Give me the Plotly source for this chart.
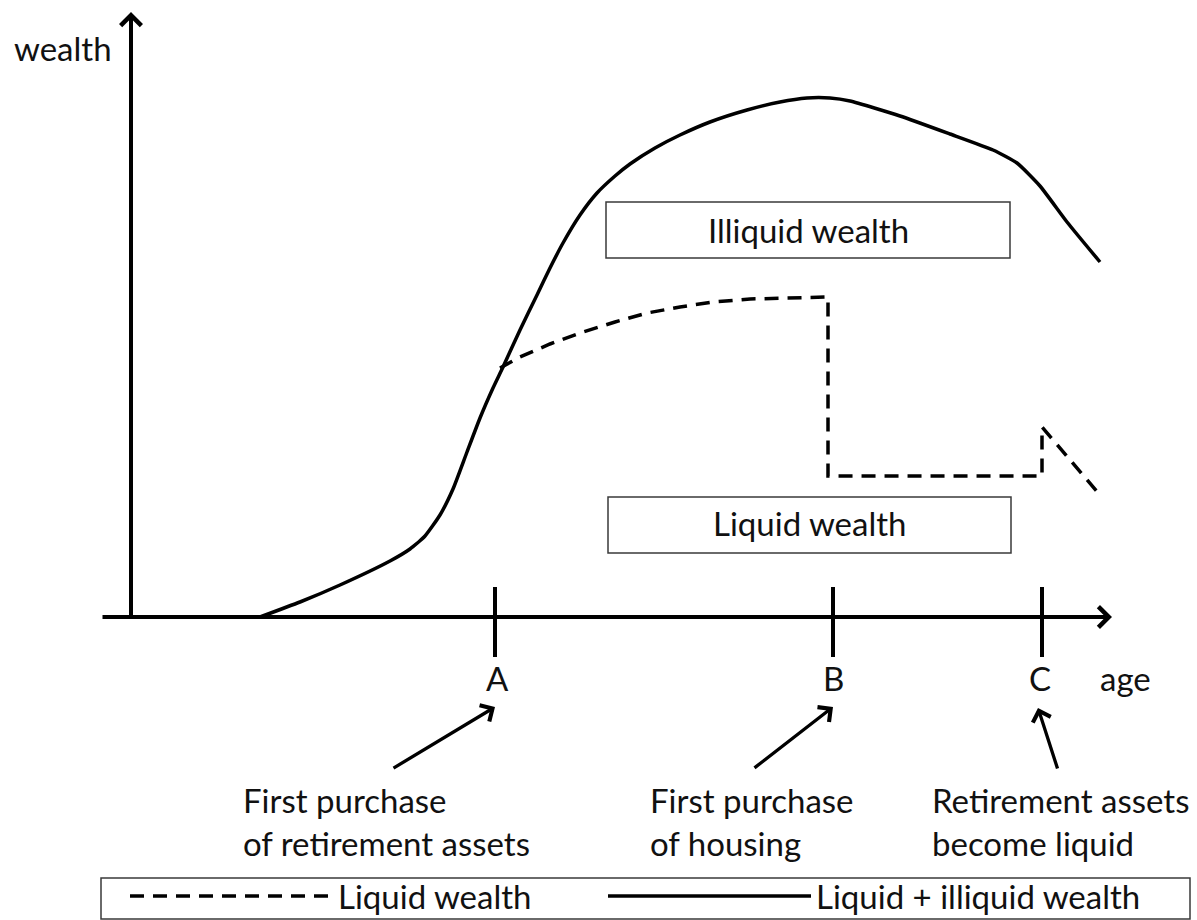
import plotly.graph_objects as go

# ---- data (age units on the horizontal axis, wealth units on the vertical axis) ----
total_age = [260, 300, 340, 390, 410, 425, 440, 453, 467, 480, 493, 503, 520, 537, 550,
             563, 580, 597, 615, 630, 655, 680, 710, 747, 780, 807, 830, 850, 900, 950,
             993, 1017, 1040, 1067, 1100]
total_wealth = [0, 15, 32, 56, 68, 81, 102, 128, 165, 199, 229, 250, 287, 322, 349,
                374, 402, 424, 441, 453, 469, 482, 495, 507, 515, 519, 519, 516, 501, 483,
                467, 454, 431, 395, 355]

liquid_age = [500, 520, 550, 580, 615, 647, 680, 713, 750, 780, 828, 828, 1042, 1042, 1100]
liquid_wealth = [249, 260, 273, 284, 295, 304, 310, 315, 318, 319, 320, 141, 141, 190, 122]

milestone_labels = ["A", "B", "C"]
milestone_age = [495, 833, 1042]
milestone_notes = [["First purchase", "of retirement assets"],
                   ["First purchase", "of housing"],
                   ["Retirement assets", "become liquid"]]

FONT = "Lato, 'Open Sans', sans-serif"
FS = 33
TXT = "#111111"

fig = go.Figure()

fig.add_trace(go.Scatter(
    x=liquid_age, y=liquid_wealth, mode="lines", name="Liquid wealth", legend="legend",
    line=dict(color="black", width=3.5, dash="14px,9px"),
))
fig.add_trace(go.Scatter(
    x=total_age, y=total_wealth, mode="lines", name="Liquid + illiquid wealth", legend="legend2",
    line=dict(color="black", width=3.5, shape="spline", smoothing=0.5),
))
# tick marks on the age axis
fig.add_trace(go.Scatter(
    x=milestone_age, y=[-5] * len(milestone_age), mode="markers", showlegend=False,
    marker=dict(symbol="line-ns-open", size=50, color="black", line=dict(color="black", width=4)),
    hoverinfo="skip",
))

ann = []
# axes as arrows
ann.append(dict(x=131, y=605, ax=131, ay=0, xref="x", yref="y", axref="x", ayref="y",
                text="", showarrow=True, arrowhead=4, arrowsize=1, arrowwidth=4,
                arrowcolor="black", standoff=0))
ann.append(dict(x=1112, y=0, ax=101, ay=0, xref="x", yref="y", axref="x", ayref="y",
                text="", showarrow=True, arrowhead=4, arrowsize=1, arrowwidth=4,
                arrowcolor="black", standoff=0))

ann.append(dict(x=12, y=569, xref="x", yref="y", text="wealth", showarrow=False,
                xanchor="left", yanchor="middle", font=dict(size=FS, family=FONT, color=TXT)))
ann.append(dict(x=1125, y=-61, xref="x", yref="y", text="age", showarrow=False,
                xanchor="center", yanchor="middle", font=dict(size=FS, family=FONT, color=TXT)))

label_x = [497, 833, 1040]
for lx, lab in zip(label_x, milestone_labels):
    ann.append(dict(x=lx, y=-61, xref="x", yref="y", text=lab, showarrow=False,
                    xanchor="center", yanchor="middle", font=dict(size=FS, family=FONT, color=TXT)))

# pointer arrows
heads = [(495, -90), (833, -90), (1038, -91)]
tails = [(392, -152), (753, -152), (1058, -153)]
for (hx, hy), (tx, ty) in zip(heads, tails):
    ann.append(dict(x=hx, y=hy, ax=tx, ay=ty, xref="x", yref="y", axref="x", ayref="y",
                    text="", showarrow=True, arrowhead=4, arrowsize=1.1, arrowwidth=3.3,
                    arrowcolor="black", standoff=0))

note_x = [241, 648, 930]
for nx, lines in zip(note_x, milestone_notes):
    for ly, line in zip([-183, -226], lines):
        ann.append(dict(x=nx, y=ly, xref="x", yref="y", text=line, showarrow=False,
                        xanchor="left", yanchor="middle",
                        font=dict(size=FS, family=FONT, color=TXT)))

ann.append(dict(x=808, y=387, xref="x", yref="y", text="Illiquid wealth", showarrow=False,
                font=dict(size=FS, family=FONT, color=TXT)))
ann.append(dict(x=809, y=94, xref="x", yref="y", text="Liquid wealth", showarrow=False,
                font=dict(size=FS, family=FONT, color=TXT)))

shapes = [
    dict(type="rect", xref="x", yref="y", x0=606, x1=1010, y0=359, y1=415,
         line=dict(color="#3a3a3a", width=1.5), fillcolor="rgba(0,0,0,0)"),
    dict(type="rect", xref="x", yref="y", x0=608, x1=1011, y0=64, y1=120,
         line=dict(color="#3a3a3a", width=1.5), fillcolor="rgba(0,0,0,0)"),
    dict(type="rect", xref="x", yref="y", x0=101, x1=1190, y0=-302, y1=-261,
         line=dict(color="#3a3a3a", width=1.5), fillcolor="rgba(0,0,0,0)"),
]

legend_common = dict(orientation="h", xanchor="left", yanchor="top",
                     itemwidth=203, bgcolor="rgba(0,0,0,0)", borderwidth=0,
                     font=dict(size=FS, family=FONT, color=TXT),
                     itemclick=False, itemdoubleclick=False)

fig.update_layout(
    width=1197, height=920,
    margin=dict(l=0, r=0, t=0, b=0, autoexpand=False),
    paper_bgcolor="white", plot_bgcolor="white",
    xaxis=dict(range=[0, 1197], visible=False, fixedrange=True),
    yaxis=dict(range=[-303, 617], visible=False, fixedrange=True),
    showlegend=True,
    legend=dict(x=125 / 1197, y=(920 - 868) / 920, **legend_common),
    legend2=dict(x=603 / 1197, y=(920 - 868) / 920, **legend_common),
    annotations=ann,
    shapes=shapes,
)

fig.write_html("out.html", config={"displayModeBar": False},
               post_script="document.body.style.margin='0px';")
